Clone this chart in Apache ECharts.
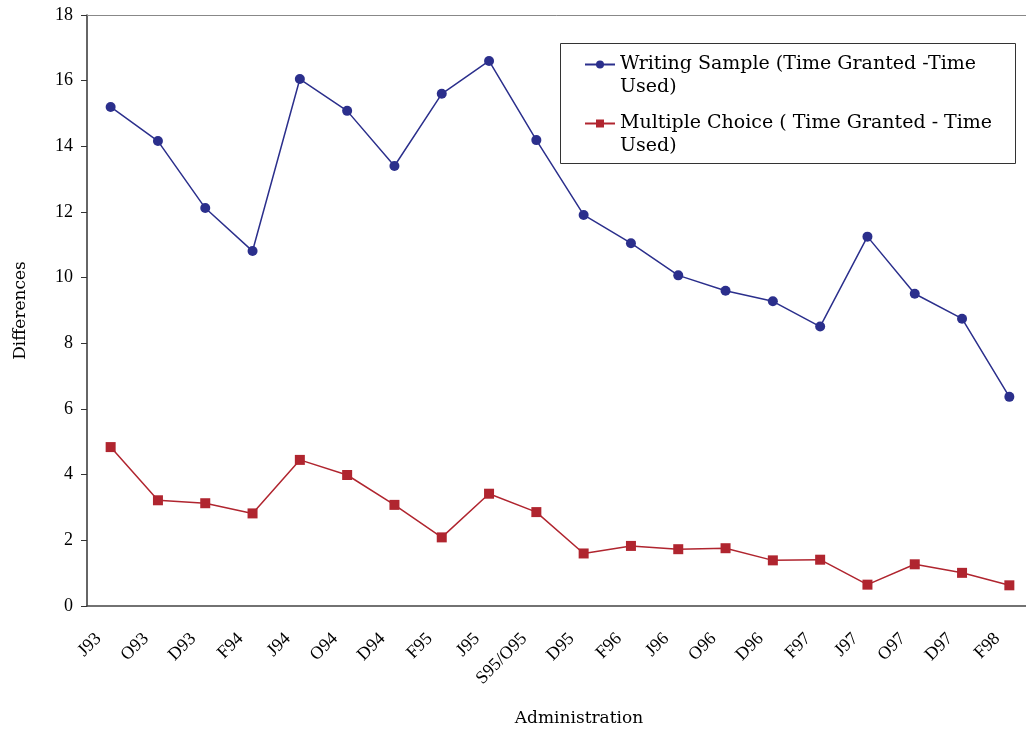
<!DOCTYPE html>
<html>
<head>
<meta charset="utf-8">
<script src="https://cdn.jsdelivr.net/npm/echarts@6/dist/echarts.min.js"></script>
<style>
  html, body { margin: 0; padding: 0; background: #fff; }
  #chart { width: 1026px; height: 730px; }
</style>
</head>
<body>
<div id="chart"></div>
<script>
  const categories = ['J93', 'O93', 'D93', 'F94', 'J94', 'O94', 'D94', 'F95', 'J95', 'S95/O95',
    'D95', 'F96', 'J96', 'O96', 'D96', 'F97', 'J97', 'O97', 'D97', 'F98'];

  const writingSample = [15.2, 14.16, 12.12, 10.81, 16.05, 15.08, 13.4, 15.6, 16.6, 14.19,
    11.91, 11.05, 10.07, 9.6, 9.28, 8.51, 11.25, 9.51, 8.75, 6.37];

  const multipleChoice = [4.84, 3.22, 3.13, 2.82, 4.45, 3.99, 3.08, 2.09, 3.42, 2.86,
    1.6, 1.83, 1.73, 1.76, 1.39, 1.41, 0.65, 1.27, 1.01, 0.63];

  const writingName = 'Writing Sample (Time Granted -Time\nUsed)';
  const choiceName = 'Multiple Choice ( Time Granted - Time\nUsed)';

  const serif = '"Liberation Serif", "Times New Roman", serif';
  const legendFont = '"DejaVu Serif", serif';

  const chart = echarts.init(document.getElementById('chart'));

  const option = {
    animation: false,
    backgroundColor: '#fff',
    grid: { left: 87, right: -7, top: 15, bottom: 124, containLabel: false, outerBoundsMode: 'none' },
    legend: {
      orient: 'vertical',
      left: 584,
      top: 30,
      padding: 0,
      itemGap: -10,
      itemWidth: 30,
      itemHeight: 10,
      data: [writingName, choiceName],
      // blank first line keeps the icon level with the first text line
      formatter: (name) => '\n' + name,
      textStyle: {
        fontFamily: legendFont,
        fontSize: 19,
        lineHeight: 23,
        color: '#000',
      },
    },
    graphic: [
      {
        type: 'rect',
        shape: { x: 560.5, y: 43.5, width: 455, height: 120 },
        style: { fill: 'none', stroke: '#333', lineWidth: 1 },
        z: 1,
      },
    ],
    xAxis: [
      {
        type: 'category',
        data: categories,
        boundaryGap: true,
        name: 'Administration',
        nameLocation: 'middle',
        nameGap: 104,
        nameTextStyle: {
          fontFamily: legendFont,
          fontSize: 17,
          color: '#000',
          padding: [0, 0, 0, 38],
        },
        axisLine: { lineStyle: { color: '#444', width: 1.5 } },
        axisTick: { alignWithLabel: false, length: 5, lineStyle: { color: '#444' } },
        axisLabel: {
          rotate: 45,
          margin: 18,
          padding: [0, 17, 0, 0],
          interval: 0,
          fontFamily: serif,
          fontSize: 18,
          color: '#000',
        },
        splitLine: { show: false },
      },
      {
        type: 'category',
        position: 'top',
        data: categories,
        axisLine: { lineStyle: { color: '#888', width: 1 } },
        axisTick: { show: false },
        axisLabel: { show: false },
      },
    ],
    yAxis: {
      type: 'value',
      min: 0,
      max: 18,
      interval: 2,
      name: 'Differences',
      nameLocation: 'middle',
      nameGap: 58,
      nameTextStyle: { fontFamily: legendFont, fontSize: 17, color: '#000' },
      axisLine: { show: true, lineStyle: { color: '#333', width: 1.5 } },
      axisTick: { show: true, length: 6, lineStyle: { color: '#333' } },
      axisLabel: { margin: 14, fontFamily: serif, fontSize: 18, color: '#000' },
      splitLine: { show: false },
    },
    series: [
      {
        name: writingName,
        type: 'line',
        data: writingSample,
        symbol: 'circle',
        symbolSize: 10,
        color: '#2B2F8C',
        lineStyle: { width: 1.5, color: '#2B2F8C' },
        itemStyle: { color: '#2B2F8C' },
      },
      {
        name: choiceName,
        type: 'line',
        data: multipleChoice,
        symbol: 'rect',
        symbolSize: 10,
        color: '#B0252F',
        lineStyle: { width: 1.5, color: '#B0252F' },
        itemStyle: { color: '#B0252F' },
      },
    ],
  };

  chart.setOption(option);
</script>
</body>
</html>
